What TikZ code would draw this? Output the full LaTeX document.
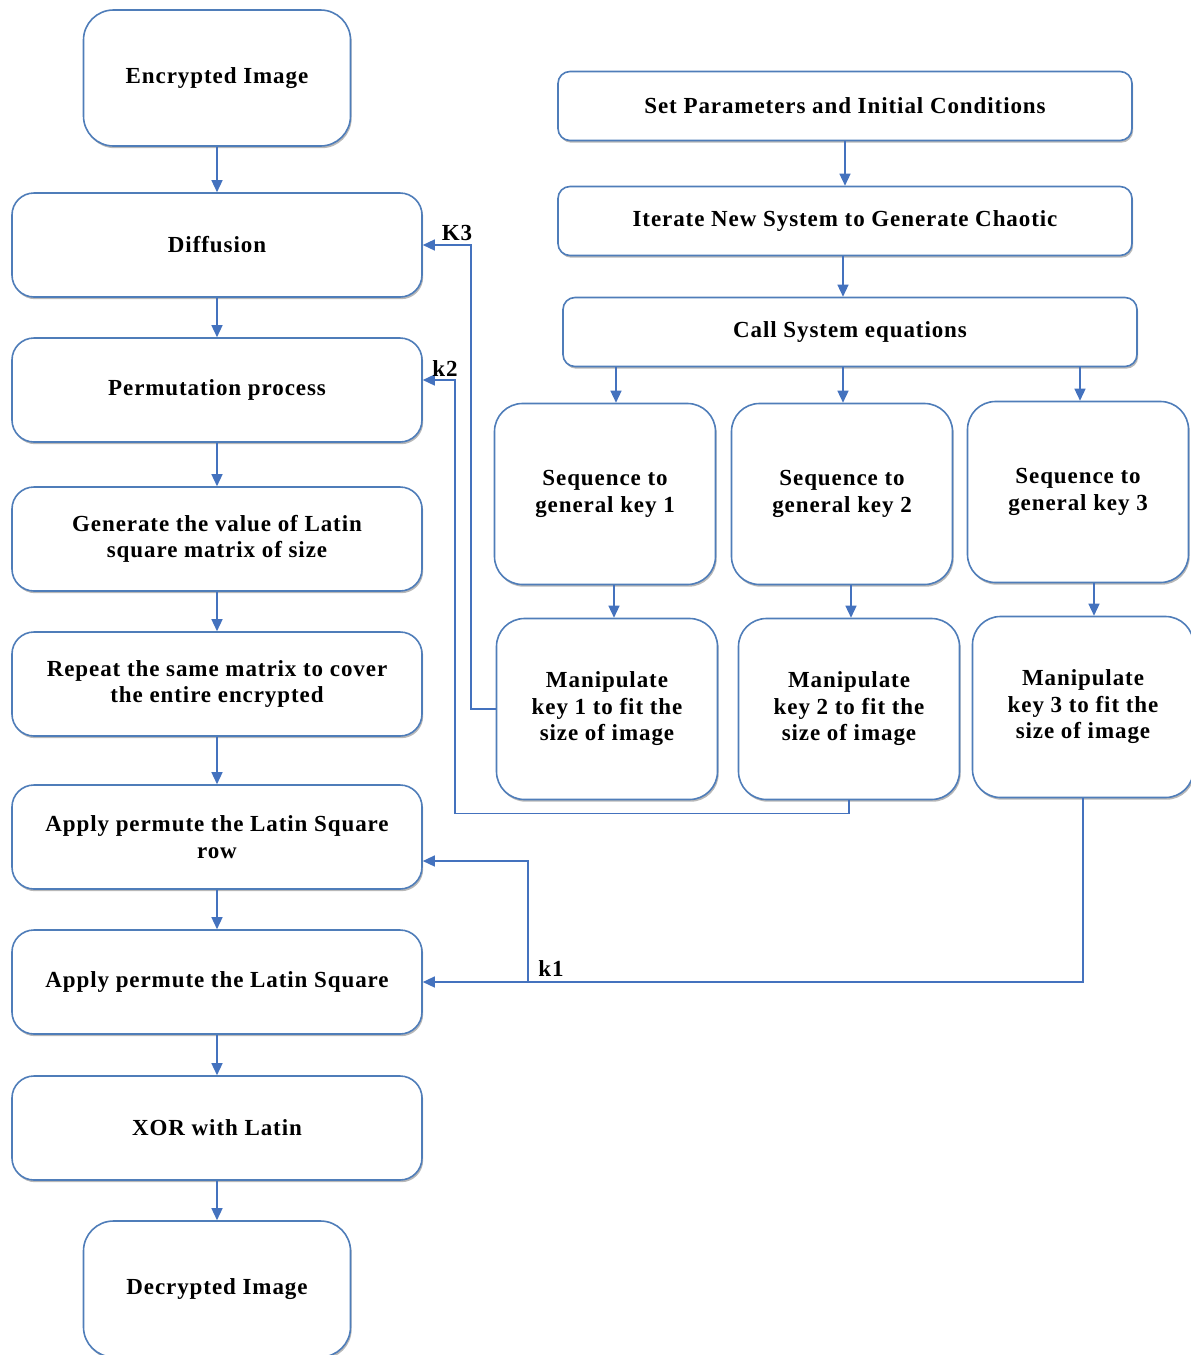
\documentclass[tikz,border=0pt]{standalone}
\usepackage{fontspec}
\newfontfamily\lbl[LetterSpace=4]{Liberation Serif}
\usetikzlibrary{arrows.meta,shadows}
\definecolor{bord}{RGB}{79,125,185}
\definecolor{conncol}{RGB}{68,114,190}
\begin{document}
\begin{tikzpicture}[x=1pt,y=-1pt,
  box/.style={draw=bord,line width=1.6pt,fill=white,align=center,inner sep=2pt,
    font=\lbl\bfseries\fontsize{23}{26.5}\selectfont,
    drop shadow={shadow xshift=1.2pt,shadow yshift=-2.2pt,fill=black!35,opacity=0.8}},
  term/.style={box,minimum width=267pt,minimum height=136pt,rounded corners=30pt},
  lbox/.style={box,minimum width=410pt,minimum height=104pt,rounded corners=22pt},
  wbox/.style={box,minimum width=574pt,minimum height=69pt,rounded corners=12pt},
  sbox/.style={box,minimum width=221pt,minimum height=181pt,rounded corners=28pt},
  conn/.style={draw=conncol,line width=1.4pt,-{Triangle[width=11pt,length=12pt]}},
  keylab/.style={font=\lbl\bfseries\fontsize{23}{26}\selectfont,inner sep=0pt}]
\useasboundingbox (0,0) rectangle (1191,1355);
% left column
\node[term] (enc) at (217,78) {Encrypted Image};
\node[lbox] (dif) at (217,245) {Diffusion};
\node[lbox] (per) at (217,390) {Permutation process};
\node[lbox] (gen) at (217,539) {Generate the value of Latin\\square matrix of size};
\node[lbox] (rep) at (217,684) {Repeat the same matrix to cover\\the entire encrypted};
\node[lbox] (row) at (217,837) {Apply permute the Latin Square\\row};
\node[lbox] (app) at (217,982) {Apply permute the Latin Square};
\node[lbox] (xor) at (217,1128) {XOR with Latin};
\node[term] (dec) at (217,1289) {Decrypted Image};
% right column
\node[wbox] (set) at (845,106) {Set Parameters and Initial Conditions};
\node[wbox] (ite) at (845,221) {Iterate New System to Generate Chaotic};
\node[wbox] (cal) at (850,332) {Call System equations};
\node[sbox] (s1) at (605,494) {Sequence to\\general key 1};
\node[sbox] (s2) at (842,494) {Sequence to\\general key 2};
\node[sbox] (s3) at (1078,492) {Sequence to\\general key 3};
\node[sbox] (m1) at (607,709) {Manipulate\\key 1 to fit the\\size of image};
\node[sbox] (m2) at (849,709) {Manipulate\\key 2 to fit the\\size of image};
\node[sbox] (m3) at (1083,707) {Manipulate\\key 3 to fit the\\size of image};
% left flow
\draw[conn] (enc) -- (dif);
\draw[conn] (dif) -- (per);
\draw[conn] (per) -- (gen);
\draw[conn] (gen) -- (rep);
\draw[conn] (rep) -- (row);
\draw[conn] (row) -- (app);
\draw[conn] (app) -- (xor);
\draw[conn] (xor) -- (dec);
% right flow
\draw[conn] (set) -- (ite);
\draw[conn] (ite.south -| 843,0) -- (cal.north -| 843,0);
\draw[conn] (cal.south -| 616,0) -- (s1.north -| 616,0);
\draw[conn] (cal.south -| 843,0) -- (s2.north -| 843,0);
\draw[conn] (cal.south -| 1080,0) -- (s3.north -| 1080,0);
\draw[conn] (s1.south -| 614,0) -- (m1.north -| 614,0);
\draw[conn] (s2.south -| 851,0) -- (m2.north -| 851,0);
\draw[conn] (s3.south -| 1094,0) -- (m3.north -| 1094,0);
% keys
\coordinate (k3c) at (471,709);
\draw[conn] (m1.west) -- (k3c) |- (dif.east);
\node[keylab] at (457,233) {K3};
\coordinate (k2c) at (455,380);
\draw[conn] (m2.south) -- ++(0,13) -| (k2c) -- (k2c -| per.east);
\node[keylab] at (445,369) {k2};
\coordinate (k1j) at (528,982);
\draw[conn] (m3.south) |- (app.east);
\draw[conn] (k1j) |- ([yshift=-24pt]row.east);
\node[keylab] at (551,969) {k1};
\end{tikzpicture}
\end{document}
